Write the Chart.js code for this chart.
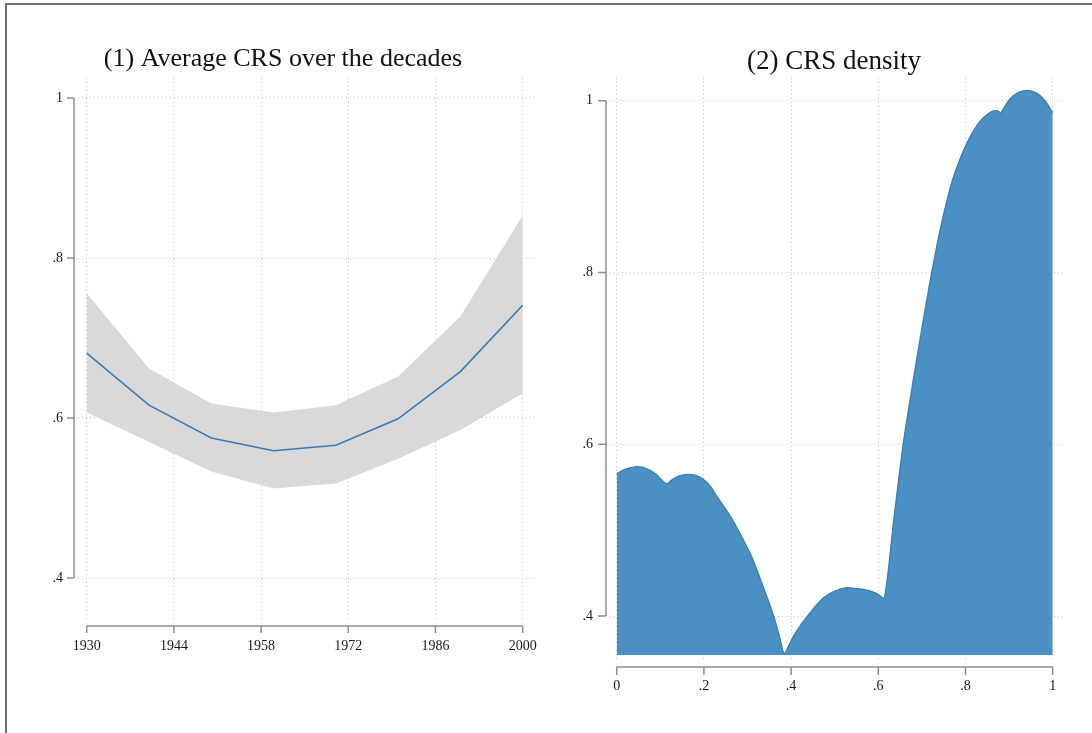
<!DOCTYPE html>
<html>
<head>
<meta charset="utf-8">
<script src="https://cdn.jsdelivr.net/npm/chart.js@4.4.0/dist/chart.umd.min.js"></script>
<style>
  html, body { margin: 0; padding: 0; background: #fff; }
  body { width: 1092px; height: 733px; position: relative; overflow: hidden; }
  #frame { position: absolute; left: 5px; top: 3px; width: 1300px; height: 1000px; border: 2px solid #707070; }
  #avgChart { position: absolute; left: 0; top: 0; }
  #densChart { position: absolute; left: 560px; top: 0; }
</style>
</head>
<body>
<div id="frame"></div>
<canvas id="avgChart" width="560" height="733"></canvas>
<canvas id="densChart" width="540" height="733"></canvas>
<script>
// (1) o'rtacha CRS, o'n yilliklar bo'yicha
const decades = [1930, 1940, 1950, 1960, 1970, 1980, 1990, 2000];
const avgCRS  = [0.681, 0.616, 0.575, 0.559, 0.566, 0.599, 0.658, 0.741];
const ciUpper = [0.756, 0.662, 0.618, 0.607, 0.616, 0.652, 0.727, 0.853];
const ciLower = [0.607, 0.570, 0.533, 0.512, 0.518, 0.549, 0.585, 0.631];
const yearTicks = [1930, 1944, 1958, 1972, 1986, 2000];
const avgYTicks = [0.4, 0.6, 0.8, 1];
const avgYTickLabels = ['.4', '.6', '.8', '1'];

// (2) CRS zichligi (rasmdan o'qilgan nuqtalar)
const densX = [0, 0.02, 0.044, 0.06, 0.076, 0.09, 0.1, 0.115,
               0.125, 0.138, 0.15, 0.164, 0.18, 0.199, 0.215, 0.229, 0.248, 0.267, 0.286, 0.306, 0.322, 0.336,
               0.35, 0.363, 0.374, 0.384,
               0.395, 0.405, 0.42, 0.436, 0.455, 0.474, 0.5, 0.528, 0.55, 0.566, 0.589, 0.6, 0.614,
               0.635, 0.657, 0.68, 0.7, 0.7225, 0.745, 0.768, 0.785, 0.799, 0.815, 0.835, 0.85, 0.864, 0.874,
               0.881, 0.89, 0.902, 0.92, 0.94, 0.958, 0.971, 0.985, 1.0];
const densY = [0.566, 0.571, 0.574, 0.573, 0.570, 0.565, 0.560, 0.554,
               0.558, 0.562, 0.564, 0.565, 0.564, 0.559, 0.551, 0.540, 0.526, 0.511, 0.493, 0.473, 0.453, 0.434,
               0.415, 0.395, 0.375, 0.356,
               0.366, 0.376, 0.388, 0.399, 0.411, 0.421, 0.429, 0.433, 0.432, 0.431, 0.428, 0.425, 0.421,
               0.510, 0.600, 0.674, 0.735, 0.800, 0.857, 0.904, 0.929, 0.946, 0.962, 0.977, 0.984, 0.988, 0.988,
               0.986, 0.993, 1.002, 1.009, 1.012, 1.010, 1.006, 0.998, 0.986];
const densBase = 0.3547;
const densXTicks = [0, 0.2, 0.4, 0.6, 0.8, 1];
const densXTickLabels = ['0', '.2', '.4', '.6', '.8', '1'];
const densYTicks = [0.4, 0.6, 0.8, 1];
const densYTickLabels = ['.4', '.6', '.8', '1'];

Chart.defaults.font.family = "'Liberation Serif', 'DejaVu Serif', serif";
Chart.defaults.color = '#1a1a1a';

const GRID = '#bfbfbf';
const AXIS = '#8e8e8e';

// Stata uslubidagi o'qlar: chiziq faqat birinchi va oxirgi belgi orasida
const stataAxes = {
  id: 'stataAxes',
  afterDraw(chart, args, opts) {
    const { ctx, chartArea } = chart;
    const xs = chart.scales.x, ys = chart.scales.y;
    const xp = xs.ticks.map(t => xs.getPixelForValue(t.value));
    const yp = ys.ticks.map(t => ys.getPixelForValue(t.value));
    const ay = chartArea.bottom + opts.xGap;
    const ax = chartArea.left - opts.yGap;
    ctx.save();
    ctx.strokeStyle = AXIS;
    ctx.lineWidth = 1.5;
    ctx.beginPath();
    ctx.moveTo(Math.min(...xp), ay);
    ctx.lineTo(Math.max(...xp), ay);
    xp.forEach(p => { ctx.moveTo(p, ay); ctx.lineTo(p, ay + opts.tick); });
    ctx.moveTo(ax, Math.min(...yp));
    ctx.lineTo(ax, Math.max(...yp));
    yp.forEach(p => { ctx.moveTo(ax, p); ctx.lineTo(ax - opts.tick, p); });
    ctx.stroke();
    ctx.restore();
  }
};

function setTicks(values) {
  return function (scale) { scale.ticks = values.map(v => ({ value: v })); };
}

function labelFrom(values, labels) {
  return function (value) {
    const i = values.findIndex(v => Math.abs(v - value) < 1e-9);
    return i >= 0 ? labels[i] : '';
  };
}

function axisCfg(min, max, ticks, labels, pad, size, isX) {
  return {
    type: 'linear',
    min: min,
    max: max,
    afterBuildTicks: setTicks(ticks),
    afterFit: s => { if (isX) s.height = size; else s.width = size; },
    grid: { color: GRID, lineWidth: 1, drawTicks: false },
    border: { display: false, dash: [1, 3] },
    ticks: {
      padding: pad,
      maxRotation: 0,
      autoSkip: false,
      font: { size: 14 },
      callback: labelFrom(ticks, labels)
    }
  };
}

new Chart(document.getElementById('avgChart'), {
  type: 'line',
  data: {
    datasets: [
      {
        label: 'Average CRS',
        data: decades.map((d, i) => ({ x: d, y: avgCRS[i] })),
        borderColor: '#3b7bb3',
        borderWidth: 1.6,
        pointRadius: 0,
        fill: false
      },
      {
        label: 'Upper CI',
        data: decades.map((d, i) => ({ x: d, y: ciUpper[i] })),
        borderWidth: 0,
        pointRadius: 0,
        backgroundColor: '#d9d9d9',
        fill: '+1'
      },
      {
        label: 'Lower CI',
        data: decades.map((d, i) => ({ x: d, y: ciLower[i] })),
        borderWidth: 0,
        pointRadius: 0,
        fill: false
      }
    ]
  },
  options: {
    responsive: false,
    animation: false,
    layout: { padding: { left: 29, right: 23, top: 0, bottom: 73 } },
    scales: {
      x: axisCfg(1928.6, 2002.3, yearTicks, yearTicks.map(String), 18, 40, true),
      y: axisCfg(0.3475, 1.025, avgYTicks, avgYTickLabels, 15, 49, false)
    },
    plugins: {
      legend: { display: false },
      tooltip: { enabled: false },
      title: {
        display: true,
        text: '(1) Average CRS over the decades',
        color: '#111',
        font: { size: 26, weight: 'normal' },
        padding: { top: 44, bottom: 2.8 }
      },
      stataAxes: { xGap: 6, yGap: 4, tick: 7 }
    }
  },
  plugins: [stataAxes]
});

new Chart(document.getElementById('densChart'), {
  type: 'line',
  data: {
    datasets: [{
      label: 'CRS density',
      data: densX.map((x, i) => ({ x: x, y: densY[i] })),
      borderColor: '#3a7db4',
      borderWidth: 1.3,
      backgroundColor: '#4a90c2',
      pointRadius: 0,
      tension: 0.25,
      fill: { value: densBase }
    }]
  },
  options: {
    responsive: false,
    animation: false,
    layout: { padding: { left: 15, right: 7, top: 0, bottom: 32 } },
    scales: {
      x: axisCfg(-0.0154, 1.0282, densXTicks, densXTickLabels, 17, 40, true),
      y: axisCfg(0.3477, 1.0264, densYTicks, densYTickLabels, 17, 35, false),
      // bo'sh o'ng o'q: sarlavhani grafik bilan bir xil markazga surish uchun
      yPad: {
        position: 'right',
        display: true,
        grid: { display: false },
        border: { display: false },
        ticks: { display: false },
        afterFit: s => { s.width = 28; }
      }
    },
    plugins: {
      legend: { display: false },
      tooltip: { enabled: false },
      title: {
        display: true,
        text: '(2) CRS density',
        color: '#111',
        font: { size: 27, weight: 'normal' },
        padding: { top: 45.6, bottom: 0 }
      },
      stataAxes: { xGap: 6, yGap: 4, tick: 8 }
    }
  },
  plugins: [stataAxes]
});
</script>
</body>
</html>
